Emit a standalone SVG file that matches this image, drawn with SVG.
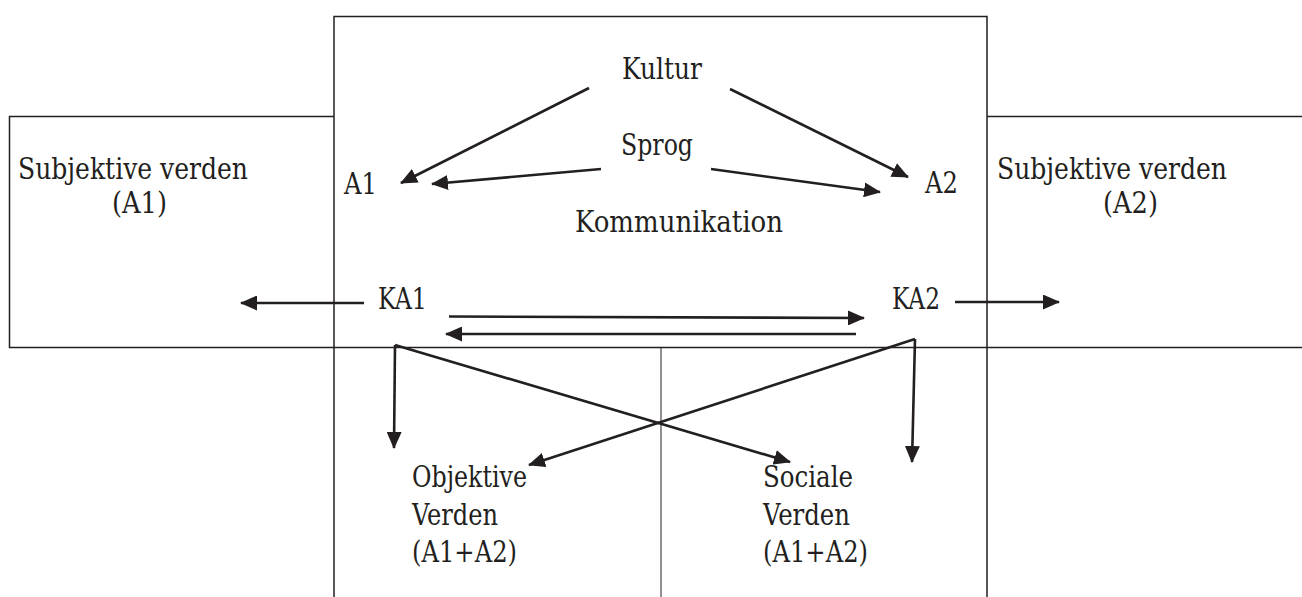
<svg xmlns="http://www.w3.org/2000/svg" width="1302" height="597" viewBox="0 0 1302 597">
  <defs>
    <style>
      .lbl { font-family: "DejaVu Serif", serif; font-stretch: condensed; font-size: 30.5px; fill: #231f20; }
      .frame { fill: none; stroke: #231f20; stroke-width: 1.5; }
      .thin { fill: none; stroke: #231f20; stroke-width: 1; }
      .conn { fill: none; stroke: #231f20; stroke-width: 2.6; }
    </style>
    <marker id="ah" markerUnits="userSpaceOnUse" markerWidth="17" markerHeight="15" refX="16" refY="7.5" orient="auto" viewBox="0 0 17 15">
      <path d="M0,0 L17,7.5 L0,15 z" fill="#231f20"/>
    </marker>
  </defs>
  <rect width="1302" height="597" fill="#ffffff"/>

  <g id="frames">
    <path class="frame" d="M334,597 L334,16.5 L987,16.5 L987,597"/>
    <path class="frame" d="M334,116.5 L9.5,116.5 L9.5,347.5 L1302,347.5"/>
    <path class="frame" d="M987,116.5 L1302,116.5"/>
    <path class="thin" d="M661,347.5 L661,597"/>
  </g>

  <g id="node-kultur"><text class="lbl" x="622" y="79" textLength="80" lengthAdjust="spacingAndGlyphs">Kultur</text></g>
  <g id="node-sprog"><text class="lbl" x="621" y="155" textLength="72" lengthAdjust="spacingAndGlyphs">Sprog</text></g>
  <g id="node-a1"><text class="lbl" x="344" y="194" textLength="33" lengthAdjust="spacingAndGlyphs">A1</text></g>
  <g id="node-a2"><text class="lbl" x="925" y="193" textLength="33" lengthAdjust="spacingAndGlyphs">A2</text></g>
  <g id="node-kommunikation"><text class="lbl" x="575" y="232" textLength="208" lengthAdjust="spacingAndGlyphs">Kommunikation</text></g>
  <g id="node-ka1"><text class="lbl" x="378" y="309" textLength="49" lengthAdjust="spacingAndGlyphs">KA1</text></g>
  <g id="node-ka2"><text class="lbl" x="892" y="309" textLength="48" lengthAdjust="spacingAndGlyphs">KA2</text></g>
  <g id="node-subj-a1">
    <text class="lbl" x="18" y="179" textLength="230" lengthAdjust="spacingAndGlyphs">Subjektive verden</text>
    <text class="lbl" x="112" y="213" textLength="55" lengthAdjust="spacingAndGlyphs">(A1)</text>
  </g>
  <g id="node-subj-a2">
    <text class="lbl" x="997" y="179" textLength="230" lengthAdjust="spacingAndGlyphs">Subjektive verden</text>
    <text class="lbl" x="1103" y="213" textLength="55" lengthAdjust="spacingAndGlyphs">(A2)</text>
  </g>
  <g id="node-objektiv">
    <text class="lbl" x="412" y="487" textLength="115" lengthAdjust="spacingAndGlyphs">Objektive</text>
    <text class="lbl" x="412" y="525" textLength="86" lengthAdjust="spacingAndGlyphs">Verden</text>
    <text class="lbl" x="412" y="562" textLength="105" lengthAdjust="spacingAndGlyphs">(A1+A2)</text>
  </g>
  <g id="node-social">
    <text class="lbl" x="763" y="487" textLength="90" lengthAdjust="spacingAndGlyphs">Sociale</text>
    <text class="lbl" x="763" y="525" textLength="87" lengthAdjust="spacingAndGlyphs">Verden</text>
    <text class="lbl" x="763" y="562" textLength="105" lengthAdjust="spacingAndGlyphs">(A1+A2)</text>
  </g>

  <g id="connectors">
    <path class="conn" d="M589,88 L401,183" marker-end="url(#ah)"/>
    <path class="conn" d="M730,89 L908,177" marker-end="url(#ah)"/>
    <path class="conn" d="M601,169 L432,184" marker-end="url(#ah)"/>
    <path class="conn" d="M711,169 L880,192" marker-end="url(#ah)"/>
    <path class="conn" d="M364,303 L241,303" marker-end="url(#ah)"/>
    <path class="conn" d="M955,302 L1059,302" marker-end="url(#ah)"/>
    <path class="conn" d="M449,316.5 L864,318" marker-end="url(#ah)"/>
    <path class="conn" d="M856,334 L446,334" marker-end="url(#ah)"/>
    <path class="conn" d="M395,345 L394,448" marker-end="url(#ah)"/>
    <path class="conn" d="M395,345 L790,462" marker-end="url(#ah)"/>
    <path class="conn" d="M915,339 L912,462" marker-end="url(#ah)"/>
    <path class="conn" d="M915,339 L529,465" marker-end="url(#ah)"/>
  </g>
</svg>
